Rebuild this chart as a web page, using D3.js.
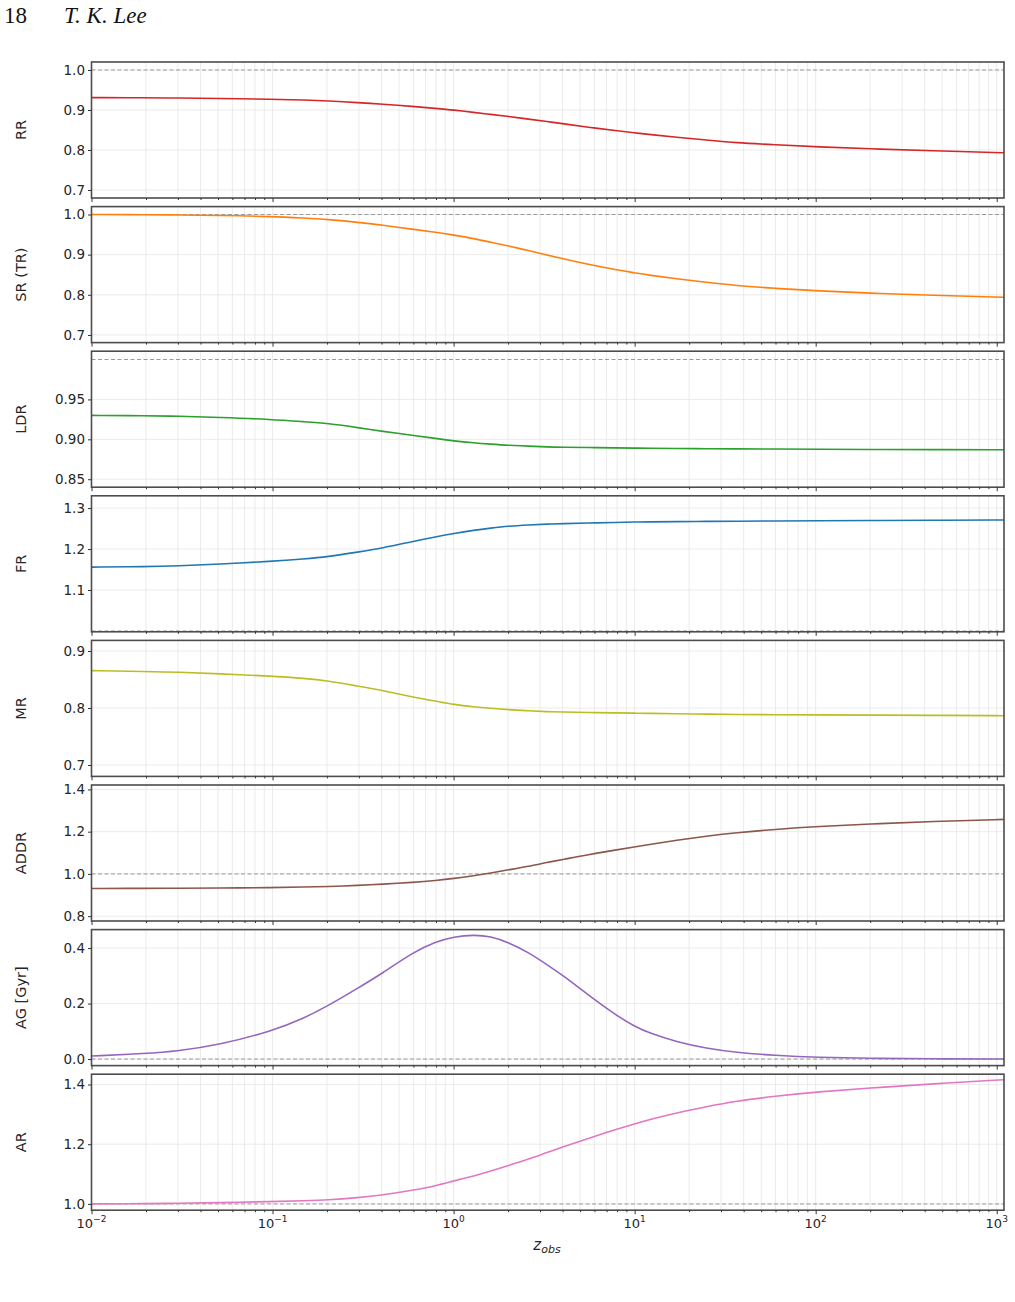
<!DOCTYPE html>
<html>
<head>
<meta charset="utf-8">
<script src="https://cdn.jsdelivr.net/npm/d3@7"></script>
<style>
  body { margin: 0; background: #fff; }
  svg { display: block; }
</style>
</head>
<body>
<svg id="fig"></svg>
<script>
// redshift grid the curves were read at
const zObs = [0.01, 0.02, 0.03, 0.05, 0.1, 0.15, 0.2, 0.3, 0.4, 0.6, 0.8, 1, 1.3, 1.6, 2, 2.6, 3.3, 4, 5.5, 8,
              10, 12, 17, 25, 36, 60, 100, 230, 500, 1097];

const rr   = [0.931, 0.9305, 0.930, 0.929, 0.927, 0.925, 0.923, 0.918, 0.915, 0.909, 0.904, 0.900, 0.894, 0.889, 0.884,
              0.877, 0.871, 0.866, 0.857, 0.848, 0.843, 0.839, 0.832, 0.825, 0.818, 0.813, 0.808, 0.802, 0.7975, 0.793];
const sr   = [1.0, 0.9995, 0.999, 0.998, 0.995, 0.991, 0.988, 0.980, 0.974, 0.963, 0.956, 0.949, 0.940, 0.931, 0.922,
              0.910, 0.899, 0.890, 0.876, 0.862, 0.855, 0.849, 0.840, 0.831, 0.823, 0.816, 0.810, 0.803, 0.798, 0.794];
const ldr  = [0.930, 0.9295, 0.929, 0.9275, 0.925, 0.922, 0.920, 0.9145, 0.910, 0.905, 0.901, 0.898, 0.8955, 0.894, 0.8925,
              0.8915, 0.8905, 0.890, 0.8897, 0.8892, 0.889, 0.8888, 0.8885, 0.8882, 0.888, 0.8878, 0.8875, 0.8873, 0.8871, 0.887];
const fr   = [1.156, 1.157, 1.159, 1.163, 1.170, 1.176, 1.181, 1.193, 1.202, 1.219, 1.230, 1.238, 1.246, 1.251, 1.256,
              1.259, 1.261, 1.262, 1.2635, 1.265, 1.266, 1.2663, 1.267, 1.2675, 1.268, 1.2685, 1.269, 1.2697, 1.2703, 1.271];
const mr   = [0.8655, 0.864, 0.863, 0.860, 0.856, 0.852, 0.848, 0.838, 0.831, 0.819, 0.812, 0.806, 0.802, 0.7995, 0.797,
              0.795, 0.7935, 0.793, 0.792, 0.7913, 0.791, 0.7905, 0.790, 0.7893, 0.7887, 0.7882, 0.788, 0.7875, 0.787, 0.7865];
const addr = [0.931, 0.9315, 0.932, 0.933, 0.935, 0.938, 0.940, 0.946, 0.951, 0.960, 0.969, 0.978, 0.992, 1.004, 1.019,
              1.036, 1.055, 1.068, 1.091, 1.114, 1.128, 1.139, 1.159, 1.179, 1.195, 1.211, 1.224, 1.239, 1.250, 1.258];
const ag   = [0.011, 0.020, 0.029, 0.050, 0.101, 0.148, 0.190, 0.258, 0.307, 0.386, 0.423, 0.441, 0.448, 0.442, 0.421,
              0.384, 0.339, 0.302, 0.233, 0.155, 0.118, 0.094, 0.062, 0.038, 0.024, 0.013, 0.006, 0.002, 0.0005, 0.0];
const ar   = [1.0, 1.001, 1.002, 1.004, 1.008, 1.011, 1.013, 1.021, 1.029, 1.046, 1.061, 1.077, 1.094, 1.110, 1.128,
              1.150, 1.173, 1.190, 1.219, 1.251, 1.268, 1.282, 1.305, 1.326, 1.344, 1.361, 1.375, 1.391, 1.404, 1.416];

const labels = ["RR", "SR (TR)", "LDR", "FR", "MR", "ADDR", "AG [Gyr]", "AR"];
const yTicks = [[0.7, 0.8, 0.9, 1.0], [0.7, 0.8, 0.9, 1.0], [0.85, 0.90, 0.95], [1.1, 1.2, 1.3],
                [0.7, 0.8, 0.9], [0.8, 1.0, 1.2, 1.4], [0.0, 0.2, 0.4], [1.0, 1.2, 1.4]];
const xTickExp = [-2, -1, 0, 1, 2, 3];

const series = [rr, sr, ldr, fr, mr, addr, ag, ar];
const colors = ["#d62728", "#ff7f0e", "#2ca02c", "#1f77b4", "#bcbd22", "#8c564b", "#9467bd", "#e377c2"];
const yDomains = [[0.68, 1.02], [0.681, 1.0197], [0.84, 1.0104], [0.998, 1.33],
                  [0.68, 0.9186], [0.777, 1.421], [-0.0236, 0.4665], [0.979, 1.4345]];
const refs = [1, 1, 1, 1, 1, 1, 0, 1];
const yFormats = [".1f", ".1f", ".2f", ".1f", ".1f", ".1f", ".1f", ".1f"];

const width = 1015, height = 1302;
const left = 91.5, right = 1004;
const top0 = 62, step = 144.6, ph = 136;
const font = "DejaVu Sans, sans-serif";

const svg = d3.select("#fig").attr("width", width).attr("height", height);

// page header
svg.append("text").attr("x", 4).attr("y", 23)
  .attr("font-family", "Liberation Serif, serif").attr("font-size", 23).attr("fill", "#111")
  .text("18");
svg.append("text").attr("x", 64).attr("y", 23)
  .attr("font-family", "Liberation Serif, serif").attr("font-size", 23).attr("font-style", "italic").attr("fill", "#111")
  .text("T. K. Lee");

const x = d3.scaleLog().domain([0.01, 1097]).range([left, right]);
const allX = x.ticks().filter(d => d <= 1097);
const majors = xTickExp.map(e => Math.pow(10, e));
const minors = allX.filter(d => !majors.some(m => Math.abs(m - d) / m < 1e-6));

series.forEach((vals, i) => {
  const g = svg.append("g").attr("transform", `translate(0,${top0 + i * step})`);
  const y = d3.scaleLinear().domain(yDomains[i]).range([ph, 0]);

  g.append("clipPath").attr("id", "clip" + i)
    .append("rect").attr("x", left).attr("y", 0).attr("width", right - left).attr("height", ph);

  // grid
  g.append("g").selectAll("line").data(allX).join("line")
    .attr("x1", d => x(d)).attr("x2", d => x(d)).attr("y1", 0).attr("y2", ph)
    .attr("stroke", "#e6e6e6").attr("stroke-width", 0.8);
  g.append("g").selectAll("line").data(yTicks[i]).join("line")
    .attr("x1", left).attr("x2", right).attr("y1", d => y(d)).attr("y2", d => y(d))
    .attr("stroke", "#e6e6e6").attr("stroke-width", 0.8);

  // reference line
  const r = refs[i];
  if (r >= yDomains[i][0] && r <= yDomains[i][1]) {
    g.append("line").attr("x1", left).attr("x2", right).attr("y1", y(r)).attr("y2", y(r))
      .attr("stroke", "#9a9a9a").attr("stroke-width", 1).attr("stroke-dasharray", "4,2.5");
  }

  const line = d3.line().x((d, k) => x(zObs[k])).y(d => y(d)).curve(d3.curveBasis);
  g.append("path").datum(vals)
    .attr("clip-path", `url(#clip${i})`)
    .attr("d", line).attr("fill", "none")
    .attr("stroke", colors[i]).attr("stroke-width", 1.6);

  // frame
  g.append("rect").attr("x", left).attr("y", 0).attr("width", right - left).attr("height", ph)
    .attr("fill", "none").attr("stroke", "#4d4d4d").attr("stroke-width", 1.6);

  // y axis
  const ya = g.append("g").attr("transform", `translate(${left},0)`)
    .call(d3.axisLeft(y).tickValues(yTicks[i]).tickSize(3.5).tickPadding(3).tickFormat(d3.format(yFormats[i])));
  ya.select(".domain").remove();
  ya.selectAll("line").attr("stroke", "#333");
  ya.selectAll("text").attr("font-family", font).attr("font-size", 13.5).attr("fill", "#262626");

  // x ticks
  const xa = g.append("g").attr("transform", `translate(0,${ph})`)
    .call(d3.axisBottom(x).tickValues(majors).tickSize(4).tickFormat(""));
  const xm = g.append("g").attr("transform", `translate(0,${ph})`)
    .call(d3.axisBottom(x).tickValues(minors).tickSize(2).tickFormat(""));
  xa.select(".domain").remove();
  xm.select(".domain").remove();
  xa.selectAll("line").attr("stroke", "#333");
  xm.selectAll("line").attr("stroke", "#333");

  // y label
  g.append("text")
    .attr("transform", `translate(21,${ph / 2}) rotate(-90)`)
    .attr("text-anchor", "middle").attr("dominant-baseline", "central")
    .attr("font-family", font).attr("font-size", 14.5).attr("fill", "#262626")
    .text(labels[i]);

  if (i === series.length - 1) {
    const tl = g.append("g").selectAll("text").data(xTickExp).join("text")
      .attr("x", d => x(Math.pow(10, d))).attr("y", ph + 18)
      .attr("text-anchor", "middle")
      .attr("font-family", font).attr("fill", "#262626");
    tl.append("tspan").attr("font-size", 13).text("10");
    tl.append("tspan").attr("font-size", 9).attr("dy", -6)
      .text(d => d < 0 ? "\u2212" + (-d) : String(d));

    const xl = g.append("text").attr("x", 547).attr("y", ph + 40)
      .attr("text-anchor", "middle").attr("font-family", font).attr("font-style", "italic").attr("fill", "#262626");
    xl.append("tspan").attr("font-size", 15).text("z");
    xl.append("tspan").attr("font-size", 11).attr("dy", 3).text("obs");
  }
});
</script>
</body>
</html>
